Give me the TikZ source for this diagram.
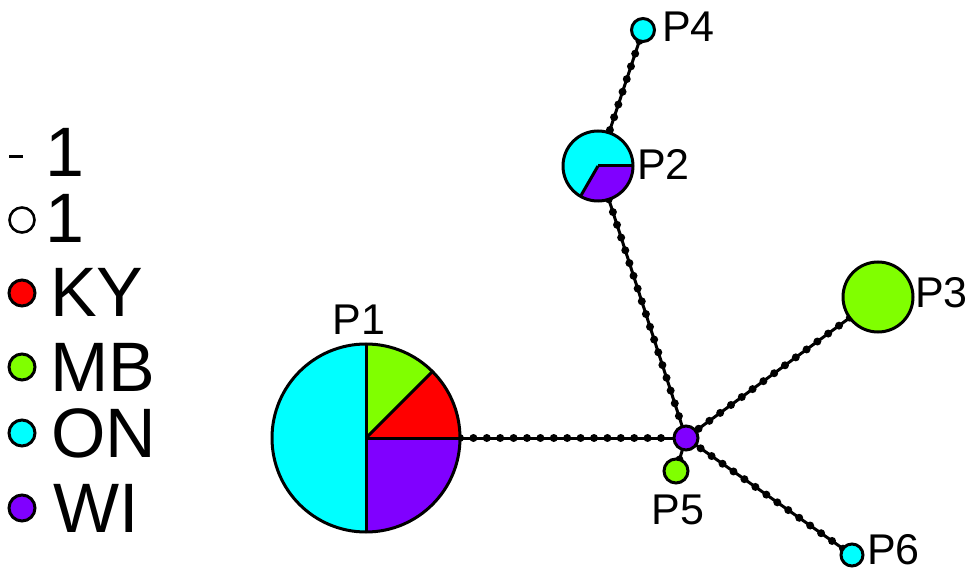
\documentclass[tikz,border=0pt]{standalone}
\usepackage{fontspec}
\setmainfont{Liberation Sans}
\pgfdeclarelayer{bg}
\pgfsetlayers{bg,main}
\definecolor{cyanc}{RGB}{0,255,255}
\definecolor{greenc}{RGB}{128,255,0}
\definecolor{redc}{RGB}{255,0,0}
\definecolor{purplec}{RGB}{128,0,255}
\begin{document}
\begin{tikzpicture}[x=1pt,y=1pt,
  hap/.style={circle, draw=black, line width=3pt, inner sep=0pt, outer sep=0pt},
  divider/.style={draw=black, line width=3pt},
  edge/.style={line width=3pt, postaction={draw, line width=8pt, line cap=round, dash pattern=on 0pt off 13.4pt}},
  lab/.style={font=\fontsize{43}{43}\selectfont, inner sep=0pt},
  leg/.style={font=\fontsize{70}{70}\selectfont, inner sep=0pt, anchor=west},
]
\useasboundingbox (0,0) rectangle (972,571);

% ---- pie P1 ----
\fill[cyanc]   (366,133) -- ++(90:94)  arc[start angle=90,  end angle=270, radius=94] -- cycle;
\fill[purplec] (366,133) -- ++(270:94) arc[start angle=270, end angle=360, radius=94] -- cycle;
\fill[redc]    (366,133) -- ++(0:94)   arc[start angle=0,   end angle=45,  radius=94] -- cycle;
\fill[greenc]  (366,133) -- ++(45:94)  arc[start angle=45,  end angle=90,  radius=94] -- cycle;
\node[hap, minimum size=188pt] (P1) at (366,133) {};
\draw[divider] (P1.north) -- (P1.south);
\draw[divider] (P1.center) -- (P1.east);
\draw[divider] (P1.center) -- (P1.45);

% ---- pie P2 ----
\fill[cyanc]   (598,405) -- ++(0:35)   arc[start angle=0,   end angle=240, radius=35] -- cycle;
\fill[purplec] (598,405) -- ++(240:35) arc[start angle=240, end angle=360, radius=35] -- cycle;
\node[hap, minimum size=70pt] (P2) at (598,405) {};
\draw[divider] (P2.center) -- (P2.east);
\draw[divider] (P2.center) -- (P2.240);

% ---- other haplotypes ----
\node[hap, fill=greenc,  minimum size=70pt] (P3)  at (878,274) {};
\node[hap, fill=cyanc,   minimum size=23pt] (P4)  at (643,541) {};
\node[hap, fill=purplec, minimum size=24pt] (hub) at (686,133) {};
\node[hap, fill=greenc,  minimum size=24pt] (P5)  at (676,100) {};
\node[hap, fill=cyanc,   minimum size=22pt] (P6)  at (852,16) {};

% ---- edges ----
\begin{pgfonlayer}{bg}
\draw[edge] (P1) -- (hub);
\draw[edge] (P2) -- (hub);
\draw[edge] (P4) -- (P2);
\draw[edge] (P3) -- (hub);
\draw[edge] (P6) -- (hub);
\draw[edge] (P5) -- (hub);
\end{pgfonlayer}

% ---- labels ----
\node[lab] (tP1) at (359,251) {P1};
\node[lab, anchor=west] (tP2) at (637,407) {P2};
\node[lab, anchor=west] (tP3) at (915,278) {P3};
\node[lab, anchor=west] (tP4) at (662,544) {P4};
\node[lab] (tP5) at (678,61) {P5};
\node[lab, anchor=west] (tP6) at (867,21) {P6};

% ---- legend ----
\draw[line width=3pt] (9,414) -- (23,414);
\node[leg] (l1) at (45,419) {1};
\node[hap, line width=2.6pt, minimum size=25pt] (c0) at (22,351) {};
\node[leg] (l2) at (45,353) {1};
\node[hap, fill=redc,    minimum size=26pt] (cKY) at (22,278) {};
\node[leg] (lKY) at (50,279) {KY};
\node[hap, fill=greenc,  minimum size=26pt] (cMB) at (22,204) {};
\node[leg] (lMB) at (50,204) {MB};
\node[hap, fill=cyanc,   minimum size=26pt] (cON) at (22,138) {};
\node[leg] (lON) at (51,138) {ON};
\node[hap, fill=purplec, minimum size=26pt] (cWI) at (22,63) {};
\node[leg] (lWI) at (53,63) {WI};
\end{tikzpicture}
\end{document}
